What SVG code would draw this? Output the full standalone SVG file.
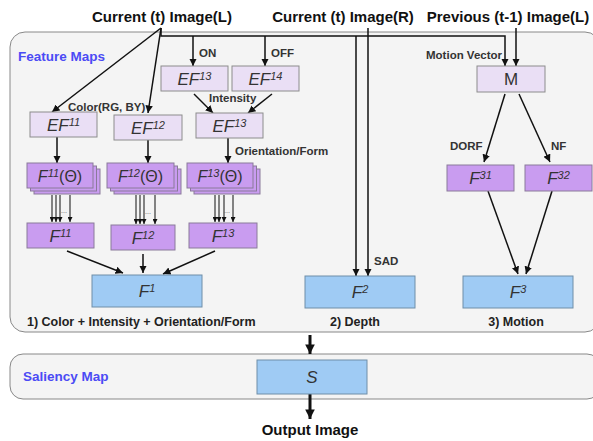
<svg xmlns="http://www.w3.org/2000/svg" width="593" height="441" viewBox="0 0 593 441">
<defs>
<marker id="ah" viewBox="0 0 10 10" refX="10" refY="5" markerWidth="5" markerHeight="5" orient="auto"><path d="M0,0 L10,5 L0,10 z" fill="#111"/></marker>
<marker id="ahb" viewBox="0 0 10 10" refX="10" refY="5" markerWidth="3.2" markerHeight="3.2" orient="auto"><path d="M0,0 L10,5 L0,10 z" fill="#111"/></marker>
</defs>
<style>
.title{font-family:"Liberation Sans",Arial,sans-serif;font-weight:bold;font-size:15px;fill:#111;text-anchor:middle}
.lbl{font-family:"Liberation Sans",Arial,sans-serif;font-weight:bold;font-size:11.5px;fill:#333}
.dots{font-family:"Liberation Sans",Arial,sans-serif;font-size:7px;fill:#555}
.cap{font-family:"Liberation Sans",Arial,sans-serif;font-weight:bold;font-size:12.5px;fill:#222}
.panel{fill:#f4f4f4;stroke:#888;stroke-width:1}
.ptitle{font-family:"Liberation Sans",Arial,sans-serif;font-weight:bold;font-size:13.5px;fill:#4b4bf5}
.ef{fill:#eadff5;stroke:#8c8c8c;stroke-width:1}
.fp{fill:#c99cf0;stroke:#8a7a9a;stroke-width:1}
.fb{fill:#9fcbf4;stroke:#6f8ea8;stroke-width:1}
.bt{font-family:"Liberation Sans",Arial,sans-serif;font-style:italic;font-size:17px;fill:#333;text-anchor:middle}
.bt2{font-family:"Liberation Sans",Arial,sans-serif;font-style:italic;font-size:16px;fill:#333;text-anchor:middle}
.up{font-style:normal}
.conn{stroke:#111;stroke-width:1.5;fill:none}
.thin{stroke:#111;stroke-width:1;fill:none}
.thick{stroke:#111;stroke-width:3;fill:none}
</style>

<g id="panels">
<rect class="panel" x="10" y="32" width="590" height="300" rx="15"/>
<text class="ptitle" x="18" y="61">Feature Maps</text>
<rect class="panel" x="10" y="354" width="590" height="45" rx="13"/>
<text class="ptitle" x="23" y="381">Saliency Map</text>
</g>

<g id="titles">
<text class="title" x="162" y="22">Current (t) Image(L)</text>
<text class="title" x="343" y="22">Current (t) Image(R)</text>
<text class="title" x="508" y="22">Previous (t-1) Image(L)</text>
</g>

<g id="connectors">
<path class="conn" d="M161,28 L52,112" marker-end="url(#ah)"/>
<path class="conn" d="M161,28 L148,113" marker-end="url(#ah)"/>
<path class="conn" d="M161,28 V36 H505 V66" marker-end="url(#ah)"/>
<path class="conn" d="M193,36 V66" marker-end="url(#ah)"/>
<path class="conn" d="M265,36 V66" marker-end="url(#ah)"/>
<path class="conn" d="M356,36 V276" marker-end="url(#ah)"/>
<path class="conn" d="M368,28 V276" marker-end="url(#ah)"/>
<path class="conn" d="M516,28 V66" marker-end="url(#ah)"/>
<path class="conn" d="M194,94 L213,113" marker-end="url(#ah)"/>
<path class="conn" d="M272,94 L248,113" marker-end="url(#ah)"/>
<path class="conn" d="M57,137 V163" marker-end="url(#ah)"/>
<path class="conn" d="M148,140 V163" marker-end="url(#ah)"/>
<path class="conn" d="M228,138 V163" marker-end="url(#ah)"/>
<path class="thin" d="M52,195 V222" marker-end="url(#ah)"/>
<path class="thin" d="M56,195 V222" marker-end="url(#ah)"/>
<path class="thin" d="M60,195 V222" marker-end="url(#ah)"/>
<path class="thin" d="M70,195 V222" marker-end="url(#ah)"/>
<path class="thin" d="M136,195 V224" marker-end="url(#ah)"/>
<path class="thin" d="M140,195 V224" marker-end="url(#ah)"/>
<path class="thin" d="M144,195 V224" marker-end="url(#ah)"/>
<path class="thin" d="M155,195 V224" marker-end="url(#ah)"/>
<path class="thin" d="M215,195 V222" marker-end="url(#ah)"/>
<path class="thin" d="M219,195 V222" marker-end="url(#ah)"/>
<path class="thin" d="M224,195 V222" marker-end="url(#ah)"/>
<path class="thin" d="M233,195 V222" marker-end="url(#ah)"/>
<text class="dots" x="61" y="213">...</text>
<text class="dots" x="145" y="214">...</text>
<text class="dots" x="224" y="213">...</text>
<path class="conn" d="M67,251 L123,273" marker-end="url(#ah)"/>
<path class="conn" d="M143,254 V273" marker-end="url(#ah)"/>
<path class="conn" d="M215,251 L163,274" marker-end="url(#ah)"/>
<path class="conn" d="M505,94 L484,162" marker-end="url(#ah)"/>
<path class="conn" d="M519,94 L550,162" marker-end="url(#ah)"/>
<path class="conn" d="M488,191 L518,274" marker-end="url(#ah)"/>
<path class="conn" d="M552,191 L526,274" marker-end="url(#ah)"/>
<path class="thick" d="M310,335 V354" marker-end="url(#ahb)"/>
<path class="thick" d="M310,394 V419" marker-end="url(#ahb)"/>
</g>

<g id="labels">
<text class="lbl" x="199" y="57">ON</text>
<text class="lbl" x="271" y="57">OFF</text>
<text class="lbl" x="68" y="111">Color(RG, BY)</text>
<text class="lbl" x="209" y="102">Intensity</text>
<text class="lbl" x="235" y="155">Orientation/Form</text>
<text class="lbl" x="426" y="59">Motion Vector</text>
<text class="lbl" x="450" y="150">DORF</text>
<text class="lbl" x="551" y="150">NF</text>
<text class="lbl" x="374" y="265">SAD</text>
<text class="cap" x="27" y="326">1) Color + Intensity + Orientation/Form</text>
<text class="cap" x="355" y="326" text-anchor="middle">2) Depth</text>
<text class="cap" x="516" y="326" text-anchor="middle">3) Motion</text>
<text class="title" x="310" y="435">Output Image</text>
</g>

<g id="EF13a"><rect class="ef" x="161" y="66" width="67" height="25"/><text class="bt" x="194.5" y="84.5">EF<tspan font-size="11" dy="-5">13</tspan></text></g>
<g id="EF14"><rect class="ef" x="232" y="66" width="67" height="25"/><text class="bt" x="265.5" y="84.5">EF<tspan font-size="11" dy="-5">14</tspan></text></g>
<g id="EF11"><rect class="ef" x="30" y="112" width="67" height="25"/><text class="bt" x="63.5" y="130.5">EF<tspan font-size="11" dy="-5">11</tspan></text></g>
<g id="EF12"><rect class="ef" x="114" y="115" width="68" height="25"/><text class="bt" x="148" y="133.5">EF<tspan font-size="11" dy="-5">12</tspan></text></g>
<g id="EF13b"><rect class="ef" x="196" y="113" width="67" height="25"/><text class="bt" x="229.5" y="131.5">EF<tspan font-size="11" dy="-5">13</tspan></text></g>
<g id="M"><rect class="ef" x="477" y="66" width="68" height="26"/><text class="bt" x="511" y="85" style="font-style:normal">M</text></g>

<g id="F11theta">
<rect class="fp" x="34" y="169" width="66" height="25"/>
<rect class="fp" x="30.5" y="166" width="66" height="25"/>
<rect class="fp" x="27" y="163" width="66" height="25"/>
<text class="bt2" x="60" y="181.5">F<tspan font-size="11" dy="-5">11</tspan><tspan class="up" dy="5">(Θ)</tspan></text>
</g>
<g id="F12theta">
<rect class="fp" x="114" y="169" width="67" height="25"/>
<rect class="fp" x="110.5" y="166" width="67" height="25"/>
<rect class="fp" x="107" y="163" width="67" height="25"/>
<text class="bt2" x="140.5" y="181.5">F<tspan font-size="11" dy="-5">12</tspan><tspan class="up" dy="5">(Θ)</tspan></text>
</g>
<g id="F13theta">
<rect class="fp" x="194" y="169" width="66" height="25"/>
<rect class="fp" x="190.5" y="166" width="66" height="25"/>
<rect class="fp" x="187" y="163" width="66" height="25"/>
<text class="bt2" x="220" y="181.5">F<tspan font-size="11" dy="-5">13</tspan><tspan class="up" dy="5">(Θ)</tspan></text>
</g>

<g id="F11"><rect class="fp" x="27" y="223" width="67" height="25"/><text class="bt" x="60.5" y="241.5">F<tspan font-size="11" dy="-5">11</tspan></text></g>
<g id="F12"><rect class="fp" x="111" y="225" width="64" height="25"/><text class="bt" x="143" y="243.5">F<tspan font-size="11" dy="-5">12</tspan></text></g>
<g id="F13"><rect class="fp" x="189" y="223" width="68" height="25"/><text class="bt" x="223" y="241.5">F<tspan font-size="11" dy="-5">13</tspan></text></g>
<g id="F31"><rect class="fp" x="447" y="165" width="67" height="26"/><text class="bt" x="480.5" y="184">F<tspan font-size="11" dy="-5">31</tspan></text></g>
<g id="F32"><rect class="fp" x="525" y="165" width="67" height="26"/><text class="bt" x="558.5" y="184">F<tspan font-size="11" dy="-5">32</tspan></text></g>

<g id="F1"><rect class="fb" x="92" y="275" width="110" height="32"/><text class="bt" x="147" y="297">F<tspan font-size="11" dy="-5">1</tspan></text></g>
<g id="F2"><rect class="fb" x="305" y="276" width="110" height="32"/><text class="bt" x="360" y="298">F<tspan font-size="11" dy="-5">2</tspan></text></g>
<g id="F3"><rect class="fb" x="463" y="276" width="110" height="32"/><text class="bt" x="518" y="298">F<tspan font-size="11" dy="-5">3</tspan></text></g>
<g id="S"><rect class="fb" x="257" y="360" width="110" height="34"/><text class="bt" x="312" y="383">S</text></g>
</svg>
